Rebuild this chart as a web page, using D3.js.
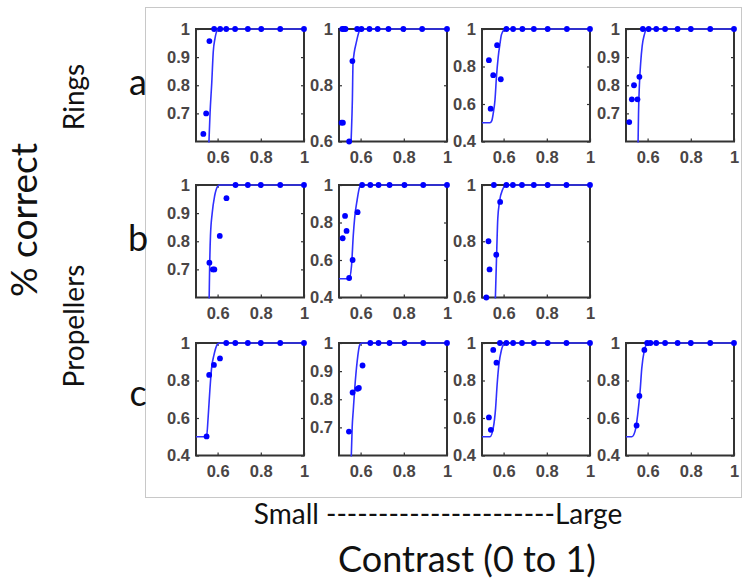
<!DOCTYPE html>
<html>
<head>
<meta charset="utf-8">
<script src="https://cdn.jsdelivr.net/npm/d3@7"></script>
<style>
  html, body { margin: 0; padding: 0; background: #fff; }
  svg { display: block; }
</style>
</head>
<body>
<svg id="chart" width="750" height="582"></svg>
<script>
// ---------------- data ----------------
const rowLabels = ["a", "b", "c"];
const groupLabels = ["Rings", "Propellers"];
const xTicks = [0.6, 0.8, 1];
const xTickLabels = ["0.6", "0.8", "1"];
const yTicksFine = [0.7, 0.8, 0.9, 1];
const yTicksMid = [0.6, 0.8, 1];
const yTicksWide = [0.4, 0.6, 0.8, 1];

// observed points [contrast, proportion correct]
const ptsA1 = [[0.534,0.627],[0.547,0.70],[0.562,0.957],[0.584,1],[0.612,1],[0.640,1],[0.681,1],[0.74,1],[0.802,1],[0.89,1],[1,1]];
const ptsA2 = [[0.512,0.667],[0.518,0.667],[0.547,0.6],[0.562,0.886],[0.515,1],[0.522,1],[0.53,1],[0.584,1],[0.604,1],[0.641,1],[0.679,1],[0.729,1],[0.798,1],[0.885,1],[1,1]];
const ptsA3 = [[0.532,0.834],[0.552,0.754],[0.54,0.575],[0.57,0.914],[0.587,0.732],[0.613,1],[0.644,1],[0.687,1],[0.74,1],[0.804,1],[0.893,1],[1,1]];
const ptsA4 = [[0.515,0.669],[0.527,0.75],[0.553,0.75],[0.537,0.8],[0.562,0.83],[0.578,1],[0.605,1],[0.64,1],[0.681,1],[0.739,1],[0.80,1],[0.89,1],[1,1]];
const ptsB1 = [[0.562,0.724],[0.578,0.70],[0.585,0.70],[0.61,0.819],[0.641,0.953],[0.683,1],[0.74,1],[0.80,1],[0.89,1],[1,1]];
const ptsB2 = [[0.517,0.716],[0.528,0.835],[0.535,0.755],[0.547,0.504],[0.563,0.60],[0.586,0.855],[0.607,1],[0.645,1],[0.683,1],[0.734,1],[0.803,1],[0.89,1],[1,1]];
const ptsB3 = [[0.52,0.6],[0.535,0.70],[0.53,0.80],[0.566,0.752],[0.584,0.94],[0.555,1],[0.613,1],[0.643,1],[0.685,1],[0.74,1],[0.804,1],[0.891,1],[1,1]];
const ptsC1 = [[0.549,0.502],[0.561,0.83],[0.583,0.883],[0.611,0.918],[0.64,1],[0.682,1],[0.74,1],[0.80,1],[0.89,1],[1,1]];
const ptsC2 = [[0.546,0.685],[0.563,0.824],[0.586,0.837],[0.592,0.84],[0.609,0.92],[0.645,1],[0.683,1],[0.734,1],[0.803,1],[0.89,1],[1,1]];
const ptsC3 = [[0.552,0.963],[0.532,0.603],[0.541,0.537],[0.567,0.895],[0.583,1],[0.613,1],[0.644,1],[0.685,1],[0.74,1],[0.804,1],[0.891,1],[1,1]];
const ptsC4 = [[0.549,0.56],[0.562,0.718],[0.585,0.963],[0.598,1],[0.613,1],[0.64,1],[0.681,1],[0.739,1],[0.80,1],[0.89,1],[1,1]];

// fitted curves, traced [contrast, proportion correct]
const fitA1 = [[0.555,0.5],[0.56,0.6],[0.565,0.7],[0.573,0.81],[0.58,0.92],[0.588,0.967],[0.599,0.996],[0.607,1],[1,1]];
const fitA2 = [[0.552,0.5],[0.556,0.6],[0.562,0.75],[0.565,0.88],[0.581,0.955],[0.596,0.996],[0.602,1],[1,1]];
const fitA3 = [[0.5,0.5],[0.537,0.5],[0.545,0.51],[0.552,0.55],[0.56,0.62],[0.567,0.745],[0.575,0.85],[0.583,0.92],[0.59,0.97],[0.602,0.995],[0.613,1],[1,1]];
const fitA4 = [[0.554,0.5],[0.556,0.6],[0.558,0.7],[0.562,0.8],[0.568,0.88],[0.575,0.94],[0.585,0.98],[0.597,1],[1,1]];
const fitB1 = [[0.559,0.5],[0.561,0.6],[0.563,0.7],[0.567,0.82],[0.575,0.9],[0.586,0.96],[0.6,0.995],[0.608,1],[1,1]];
const fitB2 = [[0.5,0.5],[0.547,0.5],[0.558,0.57],[0.566,0.73],[0.573,0.83],[0.584,0.92],[0.596,0.99],[0.607,1],[1,1]];
const fitB3 = [[0.559,0.5],[0.562,0.6],[0.568,0.76],[0.573,0.88],[0.581,0.94],[0.596,0.985],[0.612,1],[1,1]];
const fitC1 = [[0.5,0.5],[0.549,0.5],[0.556,0.6],[0.564,0.745],[0.572,0.865],[0.583,0.935],[0.599,0.993],[0.608,1],[1,1]];
const fitC2 = [[0.554,0.5],[0.557,0.6],[0.561,0.7],[0.566,0.76],[0.573,0.84],[0.584,0.934],[0.596,0.993],[0.605,1],[1,1]];
const fitC3 = [[0.5,0.5],[0.537,0.5],[0.552,0.546],[0.563,0.653],[0.57,0.777],[0.578,0.883],[0.59,0.963],[0.605,0.998],[0.612,1],[1,1]];
const fitC4 = [[0.5,0.5],[0.527,0.5],[0.542,0.53],[0.554,0.617],[0.565,0.74],[0.573,0.865],[0.584,0.955],[0.599,0.998],[0.605,1],[1,1]];

// y-axis lower limits and tick sets per panel
const yMins = [[0.6, 0.6, 0.4, 0.6], [0.6, 0.4, 0.6], [0.4, 0.6, 0.4, 0.4]];
const yTickSets = [[yTicksFine, yTicksMid, yTicksWide, yTicksFine], [yTicksFine, yTicksWide, yTicksMid], [yTicksWide, yTicksFine, yTicksWide, yTicksWide]];
const points = [[ptsA1, ptsA2, ptsA3, ptsA4], [ptsB1, ptsB2, ptsB3], [ptsC1, ptsC2, ptsC3, ptsC4]];
const fits = [[fitA1, fitA2, fitA3, fitA4], [fitB1, fitB2, fitB3], [fitC1, fitC2, fitC3, fitC4]];

// ---------------- layout ----------------
const svg = d3.select("#chart");
const panelLeft = [196, 339, 482, 626];
const panelTop = [29, 185, 343];
const pw = 108, ph = 112.5;
const blue = "#0000ff";
const tickFont = "'Liberation Sans', Arial, sans-serif";
const labelFont = "Lato, 'Open Sans', sans-serif";

// outer light frame
svg.append("rect").attr("x", 145.5).attr("y", 7.5).attr("width", 596).attr("height", 490)
  .attr("fill", "none").attr("stroke", "#c8c8c8").attr("stroke-width", 1);

const x = d3.scaleLinear().domain([0.5, 1]).range([0, pw]);

points.forEach((row, r) => {
  row.forEach((pts, c) => {
    const g = svg.append("g").attr("transform", `translate(${panelLeft[c]},${panelTop[r]})`);
    const y = d3.scaleLinear().domain([yMins[r][c], 1]).range([ph, 0]);
    const ticks = yTickSets[r][c];
    const clipId = `clip${r}${c}`;
    g.append("clipPath").attr("id", clipId).append("rect")
      .attr("x", -1).attr("y", -2).attr("width", pw + 2).attr("height", ph + 3);

    // axes (ticks point inward, mirrored on top/right)
    const bottom = g.append("g").attr("transform", `translate(0,${ph})`)
      .call(d3.axisBottom(x).tickValues(xTicks).tickFormat((d, i) => xTickLabels[i]).tickSizeInner(-3).tickSizeOuter(0).tickPadding(10));
    const left = g.append("g")
      .call(d3.axisLeft(y).tickValues(ticks).tickFormat(d3.format("~g")).tickSizeInner(-3).tickSizeOuter(0).tickPadding(6));
    const top = g.append("g").call(d3.axisTop(x).tickValues(xTicks).tickFormat("").tickSizeInner(-3).tickSizeOuter(0));
    const right = g.append("g").attr("transform", `translate(${pw},0)`)
      .call(d3.axisRight(y).tickValues(ticks).tickFormat("").tickSizeInner(-3).tickSizeOuter(0));
    [bottom, left, top, right].forEach(a => {
      a.select(".domain").remove();
      a.selectAll(".tick line").attr("stroke", "#333").attr("stroke-width", 1.2);
      a.selectAll("text").attr("font-family", tickFont).attr("font-size", 16.5)
        .attr("font-weight", "bold").attr("fill", "#4a4545");
    });
    bottom.selectAll("text").attr("dy", "0.71em");

    // frame
    g.append("rect").attr("width", pw).attr("height", ph).attr("fill", "none")
      .attr("stroke", "#333").attr("stroke-width", 2);

    // fitted curve
    g.append("path").datum(fits[r][c])
      .attr("clip-path", `url(#${clipId})`)
      .attr("fill", "none").attr("stroke", "#3030ff").attr("stroke-width", 1.6)
      .attr("d", d3.line().x(d => x(d[0])).y(d => y(d[1])).curve(d3.curveMonotoneX));

    // observed points
    g.selectAll("circle.pt").data(pts).join("circle").attr("class", "pt")
      .attr("cx", d => x(d[0])).attr("cy", d => y(d[1])).attr("r", 2.9).attr("fill", blue);
  });
});

// row letters
const letterY = [86, 242, 397];
rowLabels.forEach((t, i) => {
  svg.append("text").attr("x", 138).attr("y", letterY[i]).attr("text-anchor", "middle")
    .attr("dominant-baseline", "middle").attr("font-family", labelFont).attr("font-size", 36)
    .attr("fill", "#111").text(t);
});

// group labels (rotated)
const groupY = [97, 326];
groupLabels.forEach((t, i) => {
  svg.append("text").attr("transform", `translate(77,${groupY[i]}) rotate(-90)`)
    .attr("text-anchor", "middle").attr("dominant-baseline", "middle")
    .attr("font-family", labelFont).attr("font-size", 28).attr("fill", "#111").text(t);
});

// y title
svg.append("text").attr("transform", "translate(28,220) rotate(-90)")
  .attr("text-anchor", "middle").attr("dominant-baseline", "middle")
  .attr("font-family", labelFont).attr("font-size", 37).attr("fill", "#111").text("% correct");

// bottom texts
svg.append("text").attr("x", 438).attr("y", 524).attr("text-anchor", "middle")
  .attr("font-family", labelFont).attr("font-size", 28).attr("fill", "#111")
  .text("Small ----------------------Large");
svg.append("text").attr("x", 467).attr("y", 572).attr("text-anchor", "middle")
  .attr("font-family", labelFont).attr("font-size", 36).attr("fill", "#111")
  .text("Contrast (0 to 1)");
</script>
</body>
</html>
